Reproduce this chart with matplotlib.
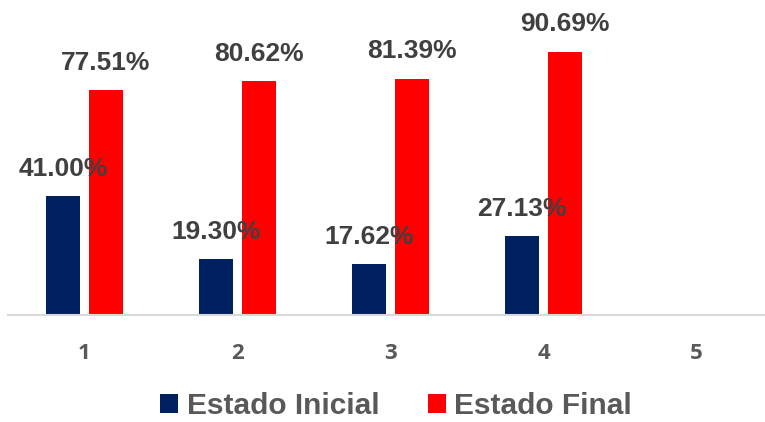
import numpy as np
import matplotlib.pyplot as plt

categories = ['1', '2', '3', '4', '5']
inicial = [41.00, 19.30, 17.62, 27.13, np.nan]
final = [77.51, 80.62, 81.39, 90.69, np.nan]

NAVY = '#002060'
RED = '#FF0000'
GRAY = '#595959'


def plot_estados():
    """Bar chart of initial vs final state per group."""
    fig = plt.figure(figsize=(7.65, 4.22), dpi=100)
    ax = fig.add_axes([0.0105, 0.2536, 1.0, 0.7227])
    x = np.arange(1, len(categories) + 1)
    w = 0.222
    off = 0.139
    b1 = ax.bar(x - off, inicial, w, color=NAVY, label='Estado Inicial')
    b2 = ax.bar(x + off, final, w, color=RED, label='Estado Final')
    for bars, vals in ((b1, inicial), (b2, final)):
        labels = ['' if np.isnan(v) else '%.2f%%' % v for v in vals]
        ax.bar_label(bars, labels=labels, padding=11, fontsize=19,
                     fontweight='bold', color='#404040', family='Liberation Sans')
    ax.set_xlim(0.5, 5.5)
    ax.set_ylim(0, 105)
    ax.set_yticks([])
    ax.set_xticks(x)
    ax.set_xticklabels(categories, fontsize=16, fontweight='bold', color=GRAY,
                       family='Open Sans')
    ax.tick_params(axis='x', length=0, pad=20)
    for s in ('top', 'right', 'left'):
        ax.spines[s].set_visible(False)
    ax.spines['bottom'].set_color('#D9D9D9')
    ax.spines['bottom'].set_linewidth(1.5)
    leg = fig.legend(loc='center', bbox_to_anchor=(0.518, 0.037), ncol=2, frameon=False,
                     handlelength=0.6, handleheight=0.6, handletextpad=0.3,
                     columnspacing=1.6,
                     prop={'family': 'Liberation Sans', 'weight': 'bold', 'size': 21.5})
    for t in leg.get_texts():
        t.set_color(GRAY)
    fig.savefig('out.png', dpi=100)


if __name__ == '__main__':
    plot_estados()
